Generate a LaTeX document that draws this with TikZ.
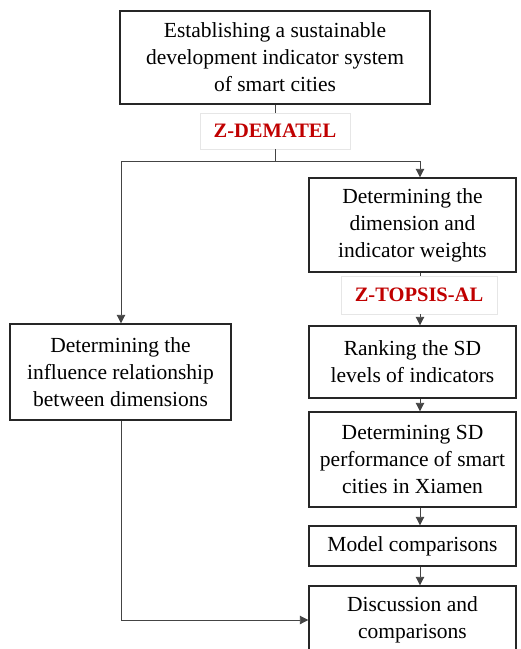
\documentclass[tikz,border=0pt]{standalone}
\usepackage{fontspec}
\setmainfont{Liberation Serif}
\usetikzlibrary{arrows.meta,calc}
\definecolor{lblred}{HTML}{C00000}
\definecolor{lblborder}{HTML}{E6E6E6}
\definecolor{conn}{HTML}{444444}
\begin{document}
\begin{tikzpicture}[x=1pt,y=-1pt,
  box/.style={draw=black!85,line width=1.4pt,fill=white,align=center,inner sep=0pt,
    font=\fontsize{21.5}{27}\selectfont},
  lbl/.style={draw=lblborder,line width=0.6pt,fill=white,inner sep=0pt,
    text=lblred,font=\fontsize{20.5}{24}\selectfont\bfseries},
  conn/.style={draw=conn,line width=0.9pt},
  arr/.style={conn,-{Triangle[width=8.5pt,length=8.5pt]}}]
\useasboundingbox (0,0) rectangle (521,649);
\clip (0,0) rectangle (521,649);
\coordinate (cx) at (420,0);
\coordinate (lx) at (121,0);
\node[box,minimum width=310pt,minimum height=93pt] (top) at (275,57.5)
  {Establishing a sustainable\\development indicator system\\of smart cities};
\node[lbl,minimum width=150pt,minimum height=36pt] (dem) at (275,131) {Z-DEMATEL};
\node[box,minimum width=207pt,minimum height=94pt] (r1) at (412.5,225)
  {Determining the\\dimension and\\indicator weights};
\node[lbl,minimum width=156pt,minimum height=38pt] (top2) at (419,295) {Z-TOPSIS-AL};
\node[box,minimum width=207pt,minimum height=72pt] (r2) at (412.5,362)
  {Ranking the SD\\levels of indicators};
\node[box,minimum width=221pt,minimum height=96pt] (lf) at (120.5,372)
  {Determining the\\influence relationship\\between dimensions};
\node[box,minimum width=207pt,minimum height=95pt] (r3) at (412.5,459.5)
  {Determining SD\\performance of smart\\cities in Xiamen};
\node[box,minimum width=207pt,minimum height=40pt] (r4) at (412.5,546)
  {Model comparisons};
\node[box,minimum width=207pt,minimum height=68pt] (r5) at (412.5,620)
  {Discussion and\\comparisons};
\coordinate (split) at (275,161);
% connectors
\draw[conn] (top.south) -- (dem.north);
\draw[conn] (dem.south) -- (split);
\draw[arr] (split) -- (split -| cx) -- (r1.north -| cx);
\draw[arr] (split) -- (split -| lx) -- (lf.north -| lx);
\draw[conn] (r1.south -| cx) -- (top2.north -| cx);
\draw[arr] (top2.south -| cx) -- (r2.north -| cx);
\draw[arr] (r2.south -| cx) -- (r3.north -| cx);
\draw[arr] (r3.south -| cx) -- (r4.north -| cx);
\draw[arr] (r4.south -| cx) -- (r5.north -| cx);
\coordinate (corner) at (121,620);
\draw[arr] (lf.south -| lx) -- (corner) -- (r5.west);
\end{tikzpicture}
\end{document}
